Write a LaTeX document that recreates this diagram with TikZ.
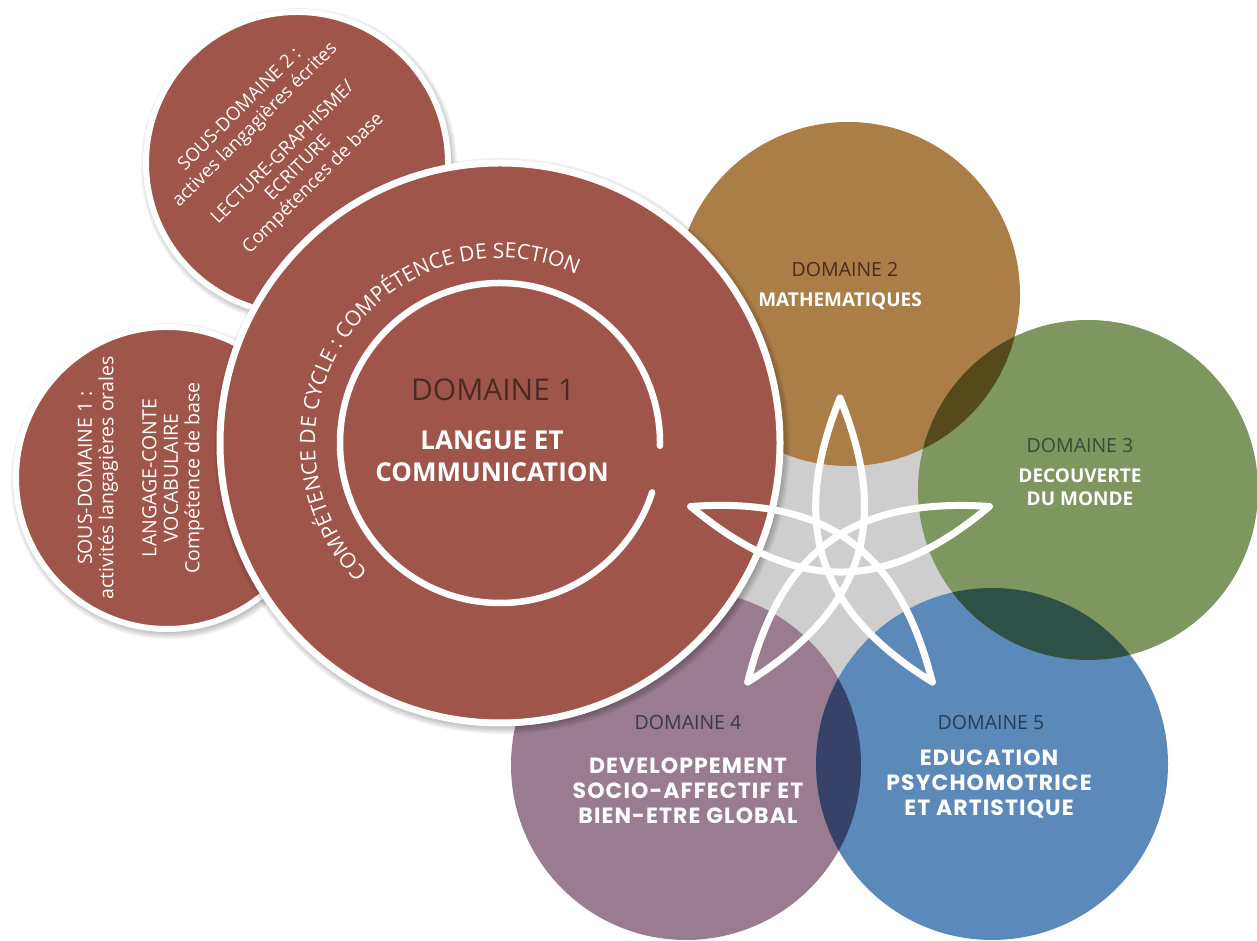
\documentclass[tikz,border=0pt]{standalone}
\usepackage{fontspec}
\setmainfont{Open Sans}
\newfontfamily\popfont{Poppins}[LetterSpace=5]
\usetikzlibrary{decorations.text}
\definecolor{dred}{HTML}{A0554A}
\definecolor{dgold}{HTML}{AB7E47}
\definecolor{dgreen}{HTML}{7E9660}
\definecolor{dpurple}{HTML}{9A7B8F}
\definecolor{dblue}{HTML}{5B89BA}
\definecolor{ovgg}{HTML}{544A1B}
\definecolor{ovgb}{HTML}{2D5146}
\definecolor{ovpb}{HTML}{374268}
\definecolor{dgray}{HTML}{CECECE}
\definecolor{t1}{HTML}{4B2A24}
\definecolor{t2}{HTML}{4A2C1E}
\definecolor{t3}{HTML}{3E4A36}
\definecolor{t4}{HTML}{383A4C}
\definecolor{t5}{HTML}{2C3B52}
\def\curvefont{\fontsize{21}{21}\selectfont\color{white}}
\tikzset{
  subcirc/.style={fill=dred, draw=white, line width=6pt},
  shadowlayer/.style={fill=black, opacity=0.055},
  starline/.style={draw=white, line width=7pt, line join=round, line cap=round},
  dlabel/.style={inner sep=0pt, font=\fontsize{19.5}{22}\selectfont},
  blabel/.style={inner sep=0pt, align=center, text=white, font=\fontsize{19}{23}\selectfont\bfseries},
  plabel/.style={inner sep=0pt, align=center, text=white, font=\popfont\fontsize{22}{25}\selectfont\bfseries},
  subtext/.style={inner sep=0pt, align=center, text=white},
}
\begin{document}
\begin{tikzpicture}[x=1pt,y=1pt]
\useasboundingbox (0,0) rectangle (1257,941);
\fill[white] (0,0) rectangle (1257,941);
% centres
\coordinate (cS2) at (297,778);
\coordinate (cS1) at (167,463);
\coordinate (cM) at (500,498);
\coordinate (cG) at (848,647);
\coordinate (cGr) at (1088,451);
\coordinate (cB) at (992,177);
\coordinate (cP) at (686,176);
\coordinate (cStar) at (840,386);
% grey centre
\fill[dgray] (770,501) -- (930,501) -- (965,341) -- (838,246) -- (725,331) -- cycle;
% domain circles
\fill[dpurple] (cP) circle[radius=175];
\fill[dblue] (cB) circle[radius=176];
\fill[dgold] (cG) circle[radius=172];
\fill[dgreen] (cGr) circle[radius=170];
\begin{scope}
  \clip (cG) circle[radius=172];
  \fill[ovgg] (cGr) circle[radius=170];
\end{scope}
\begin{scope}
  \clip (cGr) circle[radius=170];
  \fill[ovgb] (cB) circle[radius=176];
\end{scope}
\begin{scope}
  \clip (cP) circle[radius=175];
  \fill[ovpb] (cB) circle[radius=176];
\end{scope}
% sub-domain circles
\foreach \k in {1,...,5} {
  \fill[shadowlayer] ([shift={(2,-3)}]cS2) circle[radius=150+\k*1.6];
}
\draw[subcirc] (cS2) circle[radius=151];
\foreach \k in {1,...,5} {
  \fill[shadowlayer] ([shift={(2,-3)}]cS1) circle[radius=150+\k*1.6];
}
\draw[subcirc] (cS1) circle[radius=151];
% main circle
\foreach \k in {1,...,5} {
  \fill[shadowlayer] ([shift={(2,-3)}]cM) circle[radius=280+\k*1.6];
}
\draw[fill=dred, draw=white, line width=7pt] (cM) circle[radius=280];
\draw[white, line width=6.5pt, line cap=round] (cM) ++(-1:160) arc[start angle=-1, end angle=342, radius=160];
\path[decorate, decoration={text along path, text align=center,
  text={|\curvefont|COMPÉTENCE DE CYCLE : COMPÉTENCE DE SECTION}}]
  (cM) ++(238:185) arc[start angle=238, end angle=52, radius=185];
% sub-domain texts
\node[subtext, rotate=90, font=\fontsize{19.5}{21.5}\selectfont] (s1t) at (141,463)
  {SOUS-DOMAINE 1 :\\activités langagières orales\\[21.5pt]LANGAGE-CONTE\\VOCABULAIRE\\Compétence de base};
\node[subtext, rotate=45, font=\fontsize{18.5}{21.5}\selectfont] (s2t) at (277,794)
  {SOUS-DOMAINE 2 :\\actives langagières écrites\\[18pt]LECTURE-GRAPHISME/\\ECRITURE\\Compétences de base};
% domain 1
\node[inner sep=0pt, text=t1, font=\fontsize{30}{30}\selectfont] (d1) at (493,551) {DOMAINE 1};
\node[inner sep=0pt, align=center, text=white, font=\fontsize{26}{32}\selectfont\bfseries] (d1t) at (492,485) {LANGUE ET\\COMMUNICATION};
% star: curved pentagram
\foreach \a in {0,72,144,216,288} {
  \draw[starline, shift={(cStar)}, rotate=\a] (0,157) .. controls (-50.7,30.8) and (-23.2,-55.2) .. (92.3,-127);
}
% domain labels
\node[dlabel, text=t2] (d2) at (845,671) {DOMAINE 2};
\node[blabel] (d2t) at (840,640) {MATHEMATIQUES};
\node[dlabel, text=t3] (d3) at (1080,495) {DOMAINE 3};
\node[blabel] (d3t) at (1080,454) {DECOUVERTE\\DU MONDE};
\node[dlabel, text=t4] (d4) at (688,218) {DOMAINE 4};
\node[plabel] (d4t) at (688,150) {DEVELOPPEMENT\\SOCIO-AFFECTIF ET\\BIEN-ETRE GLOBAL};
\node[dlabel, text=t5] (d5) at (991,218) {DOMAINE 5};
\node[plabel] (d5t) at (989,157) {EDUCATION\\PSYCHOMOTRICE\\ET ARTISTIQUE};
\end{tikzpicture}
\end{document}
